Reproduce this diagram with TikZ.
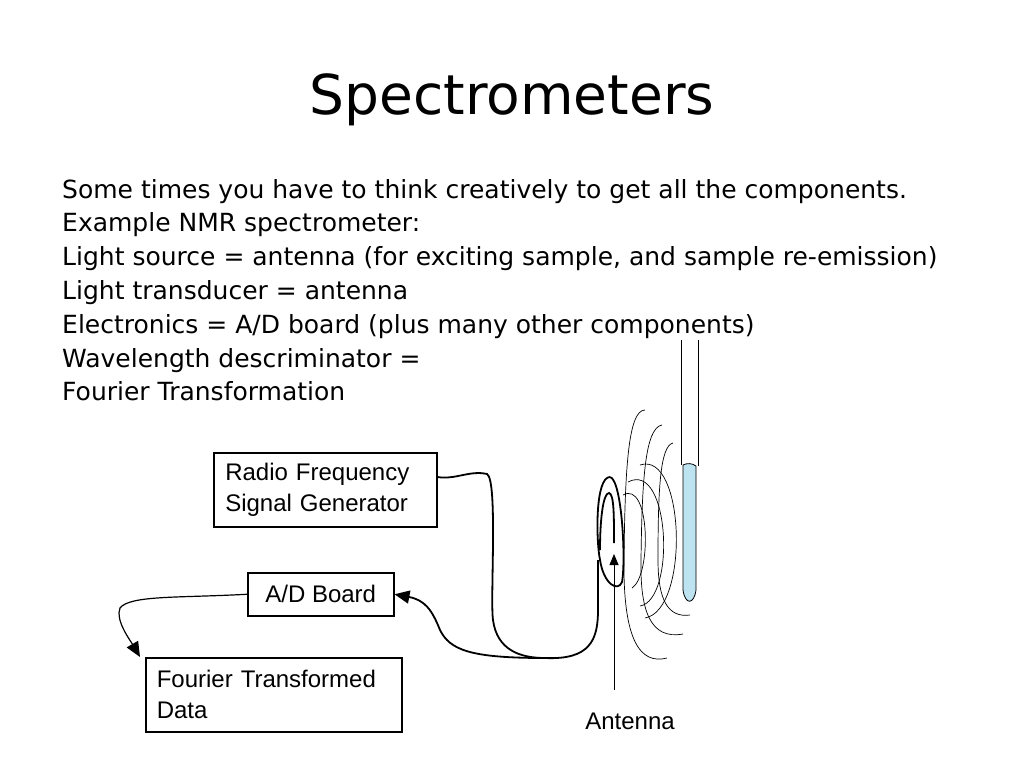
\documentclass[tikz,border=0pt]{standalone}
\usepackage{fontspec}
\setmainfont{DejaVu Sans}
\newfontfamily\arialf{Liberation Sans}
\usetikzlibrary{arrows.meta}
\begin{document}
\begin{tikzpicture}[x=1pt,y=-1pt,
  box/.style={draw,line width=1.5pt,font=\arialf\fontsize{24}{31}\selectfont,align=left,anchor=north west,inner sep=0pt},
  wire/.style={line width=1.8pt},
  fl/.style={line width=0.7pt},
  tip/.style={-{Triangle[length=15pt,width=13pt]}}]
\useasboundingbox (0,0) rectangle (1024,768);
\node[font=\fontsize{55}{66}\selectfont] (title) at (512,100) {Spectrometers};
\node[anchor=north west,align=left,font=\fontsize{25}{33.8}\selectfont,inner sep=0pt] (body) at (62,179) {Some times you have to think creatively to get all the components.\\
Example NMR spectrometer:\\
Light source = antenna (for exciting sample, and sample re-emission)\\
Light transducer = antenna\\
Electronics = A/D board (plus many other components)\\
Wavelength descriminator =\\
Fourier Transformation};
\node[box,minimum width=223pt,minimum height=74pt,text width=220pt] (rf) at (213,452) {\hspace*{10pt}Radio Frequency\\\hspace*{10pt}Signal Generator};
\node[box,minimum width=146pt,minimum height=43pt,align=center] (ad) at (247,572) {A/D Board};
\node[box,minimum width=256pt,minimum height=74pt,text width=254pt] (ft) at (145,657) {\hspace*{10pt}Fourier Transformed\\\hspace*{10pt}Data};
\node[font=\arialf\fontsize{24}{28}\selectfont] (antl) at (630,721) {Antenna};
% sample tube
\fill[fill=cyan!25!white!90!gray] (683,465) -- (683,590) .. controls (685,605) and (694,605) .. (696,590) -- (696,466) .. controls (692,463) and (687,463) .. cycle;
\draw[line width=0.8pt] (681,340) -- (681,465) (698,340) -- (698,466);
\draw[line width=0.8pt] (683,465) -- (683,590) .. controls (685,605) and (694,605) .. (696,590) -- (696,466) .. controls (692,463) and (687,463) .. cycle;
% field lines
\draw[fl] (645,410) .. controls (628,410) and (625,470) .. (624,560) .. controls (623,640) and (640,665) .. (667,658);
\draw[fl] (662,425) .. controls (645,428) and (642,480) .. (641,560) .. controls (640,610) and (650,640) .. (683,634);
\draw[fl] (673,443) .. controls (660,446) and (658,490) .. (658,560) .. controls (658,600) and (668,618) .. (690,615);
\draw[fl] (623,495) .. controls (650,480) and (652,575) .. (632,588);
\draw[fl] (628,482) .. controls (670,460) and (676,600) .. (640,606);
\draw[fl] (640,465) .. controls (685,450) and (690,610) .. (645,618);
% loop
\draw[wire] (610,477) .. controls (595,477) and (596,540) .. (600,560) .. controls (604,585) and (618,592) .. (622,582) .. controls (626,560) and (622,480) .. (610,477);
\draw[wire] (614,543) .. controls (614,515) and (614,494) .. (609,493) .. controls (603,493) and (600,520) .. (600,550);
% wires
\coordinate (j) at (545,658);
\draw[wire] (rf.east |- 0,477) .. controls (455,480) and (470,470) .. (487,474) .. controls (498,480) and (490,600) .. (493,620) .. controls (497,650) and (520,658) .. (j);
\draw[wire] (j) .. controls (590,660) and (598,640) .. (598,610) -- (598,560);
\draw[wire,tip] (j) .. controls (470,658) and (450,650) .. (440,630) .. controls (432,610) and (425,600) .. (ad.east);
\draw[line width=1.2pt,tip] (ad.west) .. controls (180,598) and (130,595) .. (120,608) .. controls (115,620) and (130,640) .. (140,657);
\draw[line width=0.8pt,-{Triangle[length=11pt,width=9pt]}] (614,690) -- (614,554);
\end{tikzpicture}
\end{document}
